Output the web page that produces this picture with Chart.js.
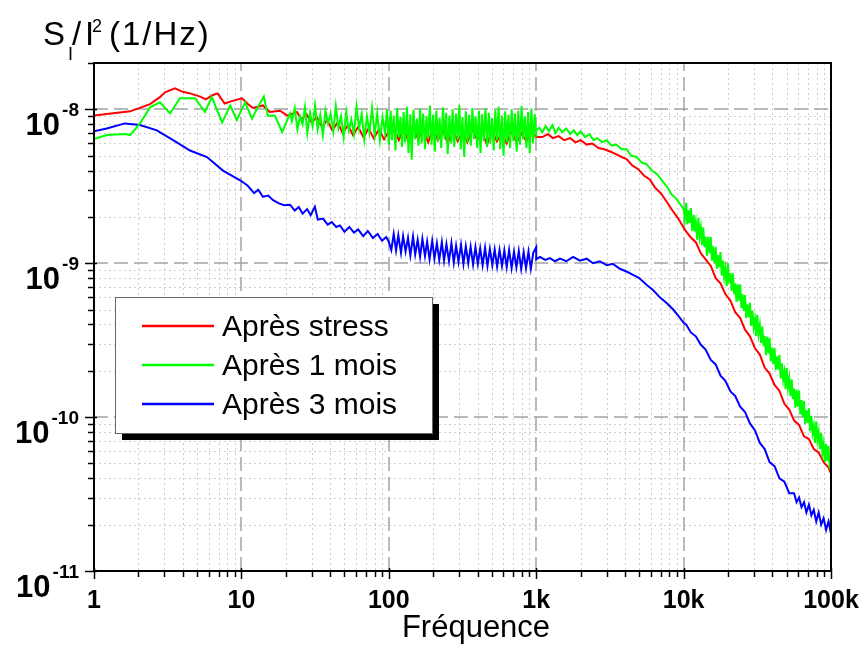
<!DOCTYPE html>
<html>
<head>
<meta charset="utf-8">
<script src="https://cdn.jsdelivr.net/npm/chart.js@4.4.1/dist/chart.umd.min.js"></script>
<style>
	body { margin: 0; background: #fff; }
	#noiseChart { display: block; }
</style>
</head>
<body>
<canvas id="noiseChart" width="866" height="648"></canvas>
<script>
// [fréquence (Hz), S_I/I^2 en unités de 1e-9 /Hz]
const stressData = [
	[1, 9.1], [1.76, 9.7], [2.4, 10.8], [2.8, 12.0], [3.03, 12.9], [3.54, 13.7], [4.0, 13.0], [4.48, 12.7],
	[5.25, 12.1], [5.75, 11.6], [6.3, 12.3], [6.9, 12.7], [7.7, 10.9], [8.6, 11.3], [10.1, 11.8], [11.1, 10.8],
	[12.0, 10.2], [14.0, 10.6], [15.6, 9.6], [18.3, 9.8], [20.4, 9.1], [23.8, 9.6],
	[25.5, 8.6], [27.6, 9.3], [30, 8.2], [32.5, 8.9], [35.2, 7.7], [38.2, 8.5], [41.4, 7.3], [44.9, 8.2],
	[48.7, 7.0], [52.8, 7.9], [57.2, 6.8], [62, 7.7], [67.3, 6.6], [72.9, 7.5], [79, 6.5], [85.7, 7.4],
	[92.9, 6.4], [100, 7.2],
	[108, 7.6], [117, 6.3], [126, 7.5], [136, 6.2], [147, 7.7], [158, 6.4], [171, 7.4], [185, 6.1],
	[200, 7.6], [215, 6.3], [233, 7.3], [251, 6.0], [271, 7.5], [293, 6.2], [316, 7.2], [341, 6.1],
	[369, 7.4], [398, 6.3], [430, 7.1], [464, 5.9], [501, 7.3], [541, 6.2], [584, 7.0], [631, 6.0],
	[681, 7.2], [736, 6.1], [794, 7.0], [858, 6.2], [926, 7.1], [1000, 6.6],
	[1100, 6.6], [1200, 6.9], [1300, 6.5], [1420, 6.7], [1550, 6.3], [1700, 6.5], [1850, 6.1], [2000, 6.3],
	[2200, 5.9], [2400, 6.0], [2650, 5.6], [2900, 5.5], [3200, 5.3], [3500, 5.1], [3800, 4.9], [4100, 4.75],
	[4500, 4.3], [4900, 4.1], [5400, 3.7], [5900, 3.5], [6400, 3.1], [7000, 2.85], [7700, 2.5], [8400, 2.2],
	[9200, 1.95], [10000, 1.7],
	[10400, 1.61], [11200, 1.47], [12100, 1.37], [13100, 1.16], [14100, 1.06], [15300, 0.96], [16500, 0.80],
	[17800, 0.74], [19200, 0.63], [20800, 0.57], [22400, 0.48], [24200, 0.44], [26100, 0.37], [28200, 0.335],
	[30500, 0.28], [32900, 0.255], [35500, 0.21], [38300, 0.192], [41400, 0.162], [44700, 0.148],
	[48300, 0.122], [52100, 0.112], [56200, 0.095], [60700, 0.089], [65600, 0.075], [70800, 0.072],
	[76400, 0.062], [82500, 0.059], [89100, 0.051], [96200, 0.047], [100000, 0.043]
];

const oneMonthData = [
	[1, 6.4], [1.22, 6.8], [1.62, 6.9], [1.76, 6.8], [2.05, 8.1], [2.4, 10.3], [2.8, 11.1], [3.28, 9.4],
	[3.83, 11.8], [4.85, 11.8], [5.66, 9.6], [6.3, 12.0], [7.4, 8.2], [8.4, 10.6], [9.3, 8.5], [10.6, 11.1],
	[11.8, 8.7], [12.9, 10.3], [14.2, 12.1], [15.1, 9.1], [16.9, 9.1], [18.9, 7.1], [21.4, 9.4],
	[22, 8.4], [23, 10.2], [24, 7.4], [25, 9.0], [26, 8.0], [27, 10.3], [28, 7.0], [29.2, 9.5],
	[30.4, 7.8], [31.6, 10.6], [32.9, 7.4], [34.3, 9.2], [35.7, 6.8], [37.2, 9.8], [38.7, 8.1], [40.3, 9.4],
	[42, 7.2], [43.7, 10.5], [45.5, 7.6], [47.4, 9.0], [49.4, 6.6], [51.4, 9.6], [53.5, 7.3], [55.7, 8.6],
	[58, 6.9], [60.4, 10.4], [62.9, 7.5], [65.5, 9.3], [68.2, 6.4], [71, 9.0], [73.9, 7.1], [77, 10.2],
	[80.2, 6.8], [83.5, 9.4], [87, 6.3], [90.6, 8.9], [94.3, 7.0], [97.2, 9.9],
	[100, 5.9], [103, 9.8], [105, 6.3], [108, 9.1], [111, 5.4], [114, 10.2], [117, 6.6], [120, 8.9],
	[123, 5.7], [126, 9.6], [129, 6.1], [133, 10.4], [136, 5.2], [140, 9.3], [143, 4.7], [147, 9.9],
	[151, 6.4], [155, 8.7], [159, 5.8], [163, 10.1], [167, 6.0], [171, 9.4], [176, 5.5], [180, 9.0],
	[185, 6.5], [190, 10.6], [195, 5.9], [200, 9.2], [205, 5.3], [210, 9.8], [216, 6.2], [221, 8.8],
	[227, 5.6], [233, 10.3], [239, 6.4], [245, 9.5], [251, 5.1], [258, 9.1], [265, 6.0], [271, 10.0],
	[278, 5.7], [286, 9.4], [293, 6.3], [301, 10.7], [308, 5.5], [316, 8.9], [325, 4.9], [333, 9.7],
	[342, 6.1], [351, 9.2], [360, 5.8], [369, 10.2], [379, 6.4], [388, 9.0], [398, 5.6], [409, 9.8],
	[419, 5.2], [430, 9.3], [441, 6.2], [453, 10.1], [465, 5.7], [477, 9.5], [489, 6.0], [502, 8.8],
	[515, 5.4], [528, 9.9], [542, 6.3], [556, 10.4], [570, 5.5], [585, 9.1], [600, 5.0], [616, 9.7],
	[632, 6.1], [648, 9.2], [665, 5.6], [682, 10.0], [700, 6.2], [718, 9.4], [737, 5.3], [756, 9.8],
	[776, 5.9], [796, 10.5], [816, 6.4], [838, 9.0], [859, 5.6], [882, 9.6], [904, 5.2], [928, 10.1],
	[952, 6.0], [977, 9.3], [1000, 6.6],
	[1000, 7.3], [1050, 7.6], [1100, 7.1], [1160, 7.8], [1220, 7.2], [1290, 7.9], [1350, 7.0], [1420, 7.6],
	[1500, 7.1], [1600, 7.5], [1700, 6.9], [1800, 7.3], [1900, 6.8], [2000, 7.2], [2150, 6.6], [2300, 6.9],
	[2450, 6.3], [2600, 6.5], [2800, 6.1], [3000, 6.3], [3250, 5.8], [3500, 5.9], [3800, 5.5], [4100, 5.5],
	[4400, 5.0], [4800, 4.9], [5200, 4.5], [5600, 4.4], [6100, 4.0], [6600, 3.8], [7200, 3.4], [7700, 3.15],
	[8300, 2.8], [9000, 2.6], [10000, 2.25],
	[10200, 1.94], [10400, 2.47], [10600, 1.79], [10800, 2.21], [11000, 1.83], [11200, 2.28], [11450, 1.62],
	[11700, 2.06], [11900, 1.61], [12100, 1.83], [12350, 1.42], [12600, 1.97], [12850, 1.49], [13100, 1.71],
	[13350, 1.31], [13600, 1.71], [13850, 1.27], [14100, 1.49], [14400, 1.12], [14700, 1.49], [15000, 1.16],
	[15300, 1.48], [15550, 1.04], [15800, 1.29], [16150, 1.00], [16500, 1.28], [16800, 0.92], [17100, 1.13],
	[17450, 0.94], [17800, 1.18], [18150, 0.83], [18500, 1.04], [18850, 0.81], [19200, 0.92], [19600, 0.71],
	[20000, 1.00], [20400, 0.74], [20800, 0.86], [21200, 0.66], [21600, 0.86], [22000, 0.63], [22400, 0.74],
	[22850, 0.56], [23300, 0.73], [23750, 0.57], [24200, 0.73], [24650, 0.51], [25100, 0.63], [25600, 0.49],
	[26100, 0.62], [26600, 0.44], [27100, 0.54], [27650, 0.446], [28200, 0.555], [28750, 0.391],
	[29300, 0.493], [29900, 0.383], [30500, 0.43], [31050, 0.336], [31600, 0.463], [32250, 0.347],
	[32900, 0.396], [33550, 0.303], [34200, 0.389], [34850, 0.289], [35500, 0.338], [36200, 0.253],
	[36900, 0.333], [37600, 0.259], [38300, 0.327], [39050, 0.230], [39800, 0.283], [40600, 0.222],
	[41400, 0.282], [42200, 0.202], [43000, 0.248], [43850, 0.204], [44700, 0.254], [45550, 0.178],
	[46400, 0.224], [47350, 0.175], [48300, 0.197], [49200, 0.152], [50100, 0.209], [51100, 0.156],
	[52100, 0.178], [53100, 0.137], [54100, 0.176], [55150, 0.131], [56200, 0.153], [57300, 0.115],
	[58400, 0.151], [59550, 0.117], [60700, 0.149], [61900, 0.104], [63100, 0.129], [64350, 0.100],
	[65600, 0.127], [66850, 0.090], [68100, 0.111], [69450, 0.092], [70800, 0.114], [72200, 0.081],
	[73600, 0.102], [75000, 0.079], [76400, 0.088], [77900, 0.068], [79400, 0.094], [80950, 0.071],
	[82500, 0.080], [84150, 0.062], [85800, 0.079], [87450, 0.059], [89100, 0.067], [90850, 0.051],
	[92600, 0.067], [94400, 0.052], [96200, 0.065], [98100, 0.046], [100000, 0.057], [100000, 0.035]
];

const threeMonthData = [
	[1, 7.2], [1.22, 7.5], [1.62, 8.1], [2.05, 7.9], [2.67, 7.3], [3.44, 6.3], [4.48, 5.4], [5.84, 4.9],
	[7.5, 4.0], [9.8, 3.46],
	[11.0, 3.2], [12.2, 2.85], [13.0, 3.0], [14.0, 2.70], [15.2, 2.75], [16.4, 2.57], [18, 2.45], [19.5, 2.38],
	[21.4, 2.40], [23, 2.20], [24.5, 2.32], [26, 2.10], [27.9, 2.25], [29.5, 2.05], [31.5, 2.33], [33, 1.92],
	[35.8, 1.95], [38.5, 1.78], [41, 1.85], [44, 1.72], [46.6, 1.76], [50, 1.60], [54, 1.72], [58, 1.58],
	[62, 1.66], [67, 1.50], [72, 1.62], [78, 1.46], [84, 1.55], [90, 1.40], [96, 1.48], [100, 1.38],
	[104, 1.22], [108, 1.55], [112, 1.21], [116, 1.52], [121, 1.17], [125, 1.50], [130, 1.19], [135, 1.46],
	[140, 1.12], [146, 1.49], [151, 1.14], [157, 1.42], [163, 1.10], [169, 1.44], [176, 1.11], [182, 1.38],
	[189, 1.06], [197, 1.40], [204, 1.07], [212, 1.35], [220, 1.05], [229, 1.37], [237, 1.04], [246, 1.33],
	[256, 1.03], [266, 1.35], [276, 1.01], [286, 1.30], [297, 1.02], [309, 1.32], [321, 0.99], [333, 1.29],
	[346, 1.00], [359, 1.28], [373, 0.98], [387, 1.27], [402, 0.99], [417, 1.25], [433, 0.97], [450, 1.26],
	[467, 0.96], [485, 1.24], [504, 0.97], [523, 1.23], [543, 0.95], [564, 1.22], [586, 0.96], [608, 1.21],
	[631, 0.94], [655, 1.22], [681, 0.93], [707, 1.19], [734, 0.94], [762, 1.20], [791, 0.92], [822, 1.18],
	[853, 0.93], [886, 1.19], [920, 0.92], [955, 1.17], [1000, 1.27],
	[1000, 1.06], [1060, 1.10], [1150, 1.05], [1240, 1.08], [1340, 1.03], [1450, 1.07], [1600, 1.03],
	[1780, 1.10], [1980, 1.04], [2200, 1.07], [2430, 1.00], [2700, 1.03], [3020, 0.97], [3310, 0.99],
	[3700, 0.92], [4130, 0.88], [4540, 0.84], [5000, 0.80], [5650, 0.72], [6200, 0.67], [6900, 0.60],
	[7700, 0.55], [8500, 0.50], [9300, 0.45], [10000, 0.41],
	[10400, 0.40], [11200, 0.355], [12100, 0.335], [13100, 0.295], [14100, 0.275], [15300, 0.235],
	[16500, 0.22], [17800, 0.186], [19200, 0.172], [20800, 0.147], [22400, 0.137], [24200, 0.117],
	[26100, 0.108], [28200, 0.091], [30500, 0.082], [32900, 0.068], [35500, 0.062], [38300, 0.051],
	[41400, 0.048], [44700, 0.040], [48300, 0.038], [52100, 0.032], [56200, 0.032], [58400, 0.028],
	[60700, 0.030], [63100, 0.026], [65600, 0.028], [68100, 0.024], [70800, 0.027], [73600, 0.023],
	[76400, 0.025], [79400, 0.021], [82500, 0.024], [85800, 0.020], [89100, 0.022], [92600, 0.0185],
	[96200, 0.021], [100000, 0.0175]
];

const seriesNames = ['Après stress', 'Après 1 mois', 'Après 3 mois'];
const seriesColors = ['#ff0000', '#00ff00', '#0000ff'];

// axes
const xTickValues = [1, 10, 100, 1000, 10000, 100000];
const xTickLabels = ['1', '10', '100', '1k', '10k', '100k'];
const yTickValues = [1e-11, 1e-10, 1e-9, 1e-8];
const yTickExps = ['-11', '-10', '-9', '-8'];
const yMin = 1e-11;
const yMax = 2e-8;

const FONT = '"Liberation Sans", Arial, sans-serif';

// graduations secondaires 2..9 de chaque décade
function minorValues(decades, top) {
	const out = [];
	decades.forEach(d => {
		for (let m = 2; m <= 9; m++) {
			if (d * m <= top * 1.0001) out.push(d * m);
		}
	});
	return out;
}
const xMinor = minorValues([1, 10, 100, 1000, 10000], 100000);
const yMinor = minorValues([1e-11, 1e-10, 1e-9, 1e-8], yMax);

function toPoints(rows) {
	return rows.map(r => ({ x: r[0], y: r[1] * 1e-9 }));
}

function seg(ctx, x1, y1, x2, y2) {
	ctx.beginPath();
	ctx.moveTo(x1, y1);
	ctx.lineTo(x2, y2);
	ctx.stroke();
}

const framePlugin = {
	id: 'frame',
	beforeDatasetsDraw(chart) {
		const { ctx, chartArea: a, scales: { x, y } } = chart;
		ctx.save();
		// grille fine pointillée
		ctx.lineWidth = 1;
		ctx.strokeStyle = '#cdcdcd';
		ctx.setLineDash([2, 3]);
		xMinor.forEach(v => {
			const px = Math.round(x.getPixelForValue(v)) + 0.5;
			seg(ctx, px, a.top, px, a.bottom);
		});
		yMinor.forEach(v => {
			const py = Math.round(y.getPixelForValue(v)) + 0.5;
			seg(ctx, a.left, py, a.right, py);
		});
		// grille des décades
		ctx.lineWidth = 1.5;
		ctx.strokeStyle = '#a3a3a3';
		ctx.setLineDash([14, 6]);
		xTickValues.slice(1, -1).forEach(v => {
			const px = Math.round(x.getPixelForValue(v));
			seg(ctx, px, a.bottom, px, a.top);
		});
		yTickValues.slice(1).forEach(v => {
			const py = Math.round(y.getPixelForValue(v));
			seg(ctx, a.left, py, a.right, py);
		});
		ctx.restore();
	},
	afterDraw(chart) {
		const { ctx, chartArea: a, scales: { x, y } } = chart;
		ctx.save();
		ctx.setLineDash([]);
		ctx.strokeStyle = '#000';

		// cadre
		ctx.lineWidth = 2;
		ctx.strokeRect(a.left, a.top, a.right - a.left, a.bottom - a.top);

		// graduations
		ctx.lineWidth = 1.5;
		xMinor.forEach(v => {
			const px = Math.round(x.getPixelForValue(v)) + 0.5;
			seg(ctx, px, a.bottom, px, a.bottom + 6);
		});
		xTickValues.forEach(v => {
			const px = Math.round(x.getPixelForValue(v)) + 0.5;
			seg(ctx, px, a.bottom - 3, px, a.bottom + 8);
		});
		yMinor.forEach(v => {
			const py = Math.round(y.getPixelForValue(v)) + 0.5;
			seg(ctx, a.left - 6, py, a.left, py);
		});
		yTickValues.forEach(v => {
			const py = Math.round(y.getPixelForValue(v)) + 0.5;
			seg(ctx, a.left - 9, py, a.left + 3, py);
		});

		// étiquettes x
		ctx.fillStyle = '#000';
		ctx.font = 'bold 25px ' + FONT;
		ctx.textAlign = 'center';
		ctx.textBaseline = 'alphabetic';
		xTickValues.forEach((v, i) => {
			ctx.fillText(xTickLabels[i], x.getPixelForValue(v), a.bottom + 37);
		});

		// étiquettes y : 10 puissance n
		ctx.textAlign = 'right';
		yTickValues.forEach((v, i) => {
			const py = y.getPixelForValue(v);
			ctx.font = 'bold 19px ' + FONT;
			const w = ctx.measureText(yTickExps[i]).width;
			ctx.fillText(yTickExps[i], 79, py + 7);
			ctx.font = 'bold 31px ' + FONT;
			ctx.fillText('10', 79 - w - 2, py + 26);
		});

		// titre de l'axe x
		ctx.textAlign = 'center';
		ctx.font = '31px ' + FONT;
		ctx.fillText('Fréquence', 476, 637);

		// titre de l'axe y : S_I/I^2 (1/Hz)
		ctx.textAlign = 'left';
		const big = '33px ' + FONT;
		const small = '18px ' + FONT;
		ctx.font = big;
		ctx.fillText('S', 43, 45);
		ctx.font = small;
		ctx.fillText('I', 68, 60);
		ctx.font = big;
		ctx.fillText('/', 72, 45);
		ctx.fillText('I', 85, 45);
		ctx.font = small;
		ctx.fillText('2', 92, 32);
		ctx.font = big;
		ctx.letterSpacing = '2px';
		ctx.fillText('(1/Hz)', 109, 45);
		ctx.letterSpacing = '0px';

		// légende avec ombre
		const lx = 115, ly = 297, lw = 317, lh = 136;
		ctx.fillStyle = '#000';
		ctx.fillRect(lx + 7, ly + 7, lw, lh);
		ctx.fillStyle = '#fff';
		ctx.fillRect(lx, ly, lw, lh);
		ctx.lineWidth = 1;
		ctx.strokeStyle = '#666';
		ctx.strokeRect(lx + 0.5, ly + 0.5, lw, lh);
		ctx.font = '30px ' + FONT;
		ctx.textBaseline = 'middle';
		seriesNames.forEach((name, i) => {
			const ry = 326 + i * 39;
			ctx.strokeStyle = seriesColors[i];
			ctx.lineWidth = 2.5;
			seg(ctx, 142, ry, 214, ry);
			ctx.fillStyle = '#000';
			ctx.fillText(name, 222, ry + 2);
		});
		ctx.restore();
	}
};

const allData = [stressData, oneMonthData, threeMonthData];
// vert au-dessus du rouge
const drawOrder = [1, 0, 2];

new Chart(document.getElementById('noiseChart'), {
	type: 'line',
	data: {
		datasets: allData.map((rows, i) => ({
			label: seriesNames[i],
			data: toPoints(rows),
			borderColor: seriesColors[i],
			backgroundColor: seriesColors[i],
			borderWidth: 2,
			pointRadius: 0,
			tension: 0,
			fill: false,
			order: drawOrder[i]
		}))
	},
	options: {
		responsive: false,
		animation: false,
		devicePixelRatio: 1,
		layout: { padding: { left: 94, right: 35, top: 63, bottom: 77 } },
		plugins: {
			legend: { display: false },
			title: { display: false },
			tooltip: { enabled: false }
		},
		scales: {
			x: {
				type: 'logarithmic',
				min: 1,
				max: 100000,
				grid: { display: false },
				border: { display: false },
				ticks: { display: false },
				afterFit: s => { s.height = 0; }
			},
			y: {
				type: 'logarithmic',
				min: yMin,
				max: yMax,
				grid: { display: false },
				border: { display: false },
				ticks: { display: false },
				afterFit: s => { s.width = 0; }
			}
		}
	},
	plugins: [framePlugin]
});
</script>
</body>
</html>
